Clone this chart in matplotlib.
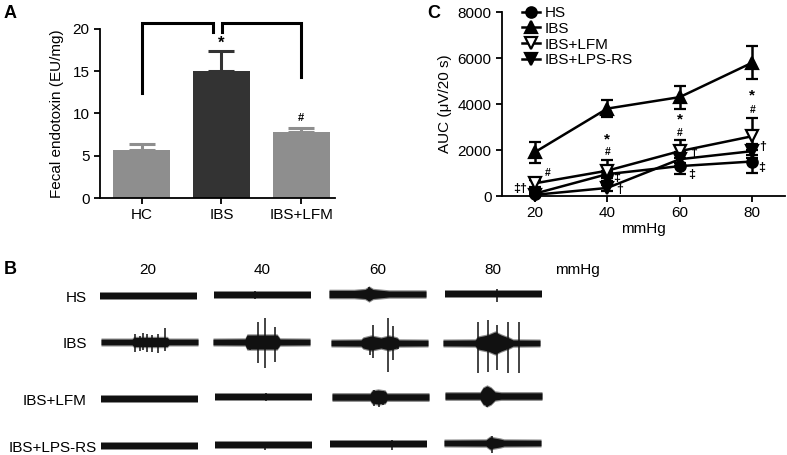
import matplotlib
matplotlib.use('Agg')
from matplotlib import pyplot as plt
from matplotlib.lines import Line2D
import numpy as np

plt.rcParams['font.family'] = ['Liberation Sans', 'DejaVu Sans']

W, H = 787, 455

# ---- panel A data
groups_a = ['HC', 'IBS', 'IBS+LFM']
endotoxin = [5.7, 15.0, 7.8]
endotoxin_sem = [0.7, 2.4, 0.5]
bar_colors = ['#8e8e8e', '#333333', '#8e8e8e']
sig_a = ['', '*', '#']
sig_a_y = [0, 18.3, 9.5]
# brackets: (x_left, x_right, y_top, y_left_end, y_right_end)
brackets = [(0, 0.89, 20.7, 12.4, 19.6), (1.01, 2.0, 20.7, 19.6, 14.3)]

# ---- panel C data
pressures = [20, 40, 60, 80]
auc_hs = [100, 950, 1300, 1500]
auc_hs_err = [60, 150, 350, 500]
auc_ibs = [1900, 3800, 4300, 5800]
auc_ibs_err = [450, 380, 500, 720]
auc_lfm = [550, 1100, 1950, 2600]
auc_lfm_err = [150, 450, 500, 800]
auc_lps = [50, 350, 1600, 1950]
auc_lps_err = [30, 120, 300, 300]
# significance marks (label, x, y)
marks_c = [('‡†', 16.0, 300), ('#', 23.5, 1000),
           ('*', 40, 2450), ('#', 40, 1900), ('‡', 42.6, 790), ('†', 43.4, 260),
           ('*', 60, 3330), ('#', 60, 2750), ('†', 63.9, 1890), ('‡', 63.4, 920),
           ('*', 80, 4380), ('#', 80, 3760), ('†', 82.8, 2150), ('‡', 82.5, 1230)]

# ---- panel B (EMG traces) data, pixel-like units, x relative to trace start
rows_b = ['HS', 'IBS', 'IBS+LFM', 'IBS+LPS-RS']
cols_b = ['20', '40', '60', '80']
trace_y = [[296, 295, 294, 294],
           [342, 342, 343, 343],
           [399, 397, 397, 396],
           [446, 445, 444, 443]]
trace_x0 = [[100, 214, 329, 445],
            [101, 213, 331, 443],
            [101, 215, 332, 445],
            [101, 215, 330, 444]]
trace_len = 97
band = [2.8, 2.8, 3.2, 2.8]
# burst envelopes: (position, half height)
envelopes = {
    (0, 2): [(0, 3.6), (25, 3.6), (36, 4.5), (40, 7), (44, 4.5), (60, 3), (97, 3)],
    (1, 0): [(31, 2.8), (33, 4.5), (66, 4.5), (68, 2.8)],
    (1, 1): [(32, 3), (34, 7), (64, 7), (67, 3)],
    (1, 2): [(30, 3), (32, 5), (40, 7), (50, 5), (58, 7), (66, 5), (68, 3)],
    (1, 3): [(32, 3), (35, 6), (45, 8), (52, 11), (58, 8), (66, 5), (70, 3)],
    (2, 2): [(38, 3.2), (40, 6), (46, 7), (53, 6), (55, 3.2)],
    (2, 3): [(35, 3.2), (38, 8), (42, 10), (46, 8), (50, 4), (56, 3.2)],
    (3, 3): [(42, 3), (46, 6), (50, 5), (56, 4), (60, 3)],
}
# spikes: (position, up, down)
spikes = {
    (0, 1): [(41, 4, 4)],
    (0, 2): [(40, 7, 7)],
    (0, 3): [(52, 5, 8)],
    (1, 0): [(34, 8, 10), (39, 6, 9), (42, 9, 8), (46, 8, 10), (51, 7, 10), (57, 8, 11), (64, 14, 9)],
    (1, 1): [(37, 5, 8), (45, 20, 21), (52, 24, 26), (62, 15, 20)],
    (1, 2): [(39, 5, 12), (42, 18, 15), (57, 25, 29), (62, 17, 17), (67, 3, 6)],
    (1, 3): [(35, 21, 30), (45, 23, 29), (54, 18, 27), (65, 21, 30), (76, 21, 30)],
    (2, 1): [(51, 4, 4)],
    (2, 2): [(42, 7, 9), (47, 6, 10), (51, 6, 8)],
    (2, 3): [(42, 9, 11), (45, 6, 9)],
    (3, 1): [(50, 3, 5)],
    (3, 2): [(62, 4, 6)],
    (3, 3): [(48, 7, 10)],
}

fig = plt.figure(figsize=(W / 100, H / 100), dpi=100)

# overlay in pixel coordinates for panel B and panel letters
ov = fig.add_axes([0, 0, 1, 1])
ov.set_xlim(0, W)
ov.set_ylim(H, 0)
ov.axis('off')

for lab, x, y in [('A', 4, 14), ('B', 4, 270), ('C', 427, 14)]:
    ov.text(x, y, lab, fontsize=13, fontweight='bold', ha='left', va='center')

for i, r in enumerate(rows_b):
    xr = 97 if r == 'IBS+LPS-RS' else 87
    ov.text(xr, trace_y[i][0] + 2, r, fontsize=11, ha='right', va='center')
col_centers = [148, 262, 378, 493]
for c, xc in zip(cols_b, col_centers):
    ov.text(xc, 270, c, fontsize=11, ha='center', va='center')
ov.text(577, 270, 'mmHg', fontsize=11, ha='center', va='center')

for i in range(4):
    for j in range(4):
        x0 = trace_x0[i][j]
        y0 = trace_y[i][j]
        pts = envelopes.get((i, j), [])
        ex = [0] + [p[0] for p in pts] + [trace_len]
        eh = [band[i]] + [p[1] for p in pts] + [band[i]]
        ex = np.array(ex) + x0
        eh = np.array(eh)
        # soft outer edge, then dark core
        ov.fill_between(ex, y0 - eh - 1.2, y0 + eh + 1.2, color='#8a8a8a', lw=0)
        ov.fill_between(ex, y0 - eh, y0 + eh, color='#111111', lw=0)
        for p, up, dn in spikes.get((i, j), []):
            ov.vlines(x0 + p, y0 - up, y0 + dn, color='#111111', lw=1.1)

# ---- panel A
axA = fig.add_axes([100 / W, 1 - 198 / H, 235 / W, 169 / H])
xa = np.arange(len(groups_a))
axA.bar(xa, endotoxin, width=0.71, color=bar_colors, zorder=2)
for k in range(len(xa)):
    axA.errorbar(xa[k], endotoxin[k], yerr=[[0], [endotoxin_sem[k]]], fmt='none',
                 ecolor=bar_colors[k], elinewidth=2.2, capsize=9.5, capthick=2.2, zorder=1)
    if sig_a[k]:
        axA.text(xa[k], sig_a_y[k], sig_a[k], ha='center', va='center',
                 fontsize=12 if sig_a[k] == '*' else 8, fontweight='bold')
for xl, xr, yt, yl, yr in brackets:
    axA.plot([xl, xl, xr, xr], [yl, yt, yt, yr], color='k', lw=2.2, clip_on=False,
             solid_joinstyle='miter')
axA.set_xlim(-0.52, 2.42)
axA.set_ylim(0, 20)
axA.set_yticks([0, 5, 10, 15, 20])
axA.set_xticks(xa)
axA.set_xticklabels(groups_a)
axA.set_ylabel('Fecal endotoxin (EU/mg)', fontsize=11, labelpad=6)
for sp in ['top', 'right']:
    axA.spines[sp].set_visible(False)
for sp in ['left', 'bottom']:
    axA.spines[sp].set_linewidth(1.3)
axA.tick_params(direction='out', length=4, width=1.3, labelsize=11)

# ---- panel C
axC = fig.add_axes([502 / W, 1 - 196 / H, 283 / W, 184 / H])
series = [(auc_hs, auc_hs_err, 'o', 'k', 7.5),
          (auc_ibs, auc_ibs_err, '^', 'k', 8),
          (auc_lfm, auc_lfm_err, 'v', 'white', 8.5),
          (auc_lps, auc_lps_err, 'v', 'k', 8.5)]
for vals, err, m, fc, ms in series:
    axC.errorbar(pressures, vals, yerr=err, color='k', lw=1.8, marker=m, ms=ms,
                 mfc=fc, mec='k', mew=1.6, capsize=4, capthick=1.8, elinewidth=1.8,
                 clip_on=False, zorder=3)
for lab, x, y in marks_c:
    fs = 11 if lab == '*' else (7.5 if lab == '#' else 9)
    axC.text(x, y, lab, ha='center', va='center', fontsize=fs, fontweight='bold')
axC.set_xlim(11, 89)
axC.set_ylim(0, 8000)
axC.set_xticks(pressures)
axC.set_yticks([0, 2000, 4000, 6000, 8000])
axC.set_xlabel('mmHg', fontsize=11, labelpad=1)
axC.set_ylabel('AUC (μV/20 s)', fontsize=11, labelpad=4)
for sp in ['top', 'right']:
    axC.spines[sp].set_visible(False)
for sp in ['left', 'bottom']:
    axC.spines[sp].set_linewidth(1.3)
axC.tick_params(direction='out', length=4, width=1.3, labelsize=11)

handles = [Line2D([], [], color='k', lw=1.8, marker=m, ms=ms, mfc=fc, mec='k', mew=1.6)
           for _, _, m, fc, ms in series]
axC.legend(handles, ['HS', 'IBS', 'IBS+LFM', 'IBS+LPS-RS'], loc='upper left',
           bbox_to_anchor=(522 / W, 1 - 6 / H), bbox_transform=fig.transFigure,
           frameon=False, fontsize=11, handlelength=1.2, handletextpad=0.3,
           labelspacing=0.12, borderpad=0, borderaxespad=0)

fig.savefig('out.png', dpi=100)
